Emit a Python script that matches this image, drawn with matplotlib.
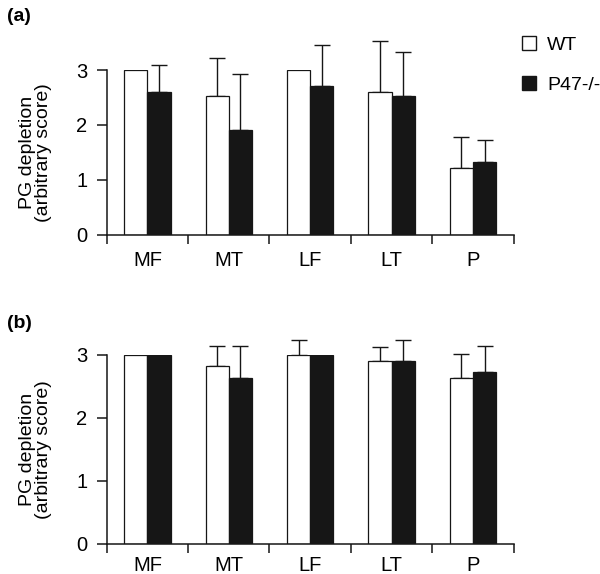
import numpy as np
import matplotlib
matplotlib.use("Agg")
import matplotlib.pyplot as plt
from matplotlib.lines import Line2D

plt.rcParams['font.family'] = ['Liberation Sans', 'DejaVu Sans']

# data
sites = ['MF', 'MT', 'LF', 'LT', 'P']
groups = ['WT', 'P47-/-']

# panel (a)
wt_a = [3.0, 2.53, 3.0, 2.6, 1.22]
wt_a_err = [0.0, 0.69, 0.0, 0.92, 0.56]
ko_a = [2.6, 1.9, 2.7, 2.53, 1.32]
ko_a_err = [0.5, 1.02, 0.75, 0.8, 0.4]

# panel (b)
wt_b = [3.0, 2.83, 3.0, 2.9, 2.63]
wt_b_err = [0.0, 0.32, 0.23, 0.23, 0.39]
ko_b = [3.0, 2.63, 3.0, 2.9, 2.73]
ko_b_err = [0.0, 0.52, 0.0, 0.33, 0.42]

yticks = [0, 1, 2, 3]

fig = plt.figure(figsize=(6.0, 5.74), dpi=100)
ax_a = fig.add_axes([0.1778, 0.5911, 0.6783, 0.2869])
ax_b = fig.add_axes([0.1778, 0.0523, 0.6783, 0.3293])

black = '#161616'
w = 0.285
x = np.arange(len(sites))


def draw_panel(ax, wt, wt_err, ko, ko_err, xpad):
    for vals, err, off, col in [(wt, wt_err, -w / 2, 'white'), (ko, ko_err, w / 2, black)]:
        ax.bar(x + off, vals, width=w, color=col, edgecolor=black, linewidth=0.9, zorder=2)
        err = np.array(err)
        has = err > 0
        ax.errorbar((x + off)[has], np.array(vals)[has],
                    yerr=[np.zeros(has.sum()), err[has]],
                    fmt='none', ecolor=black, elinewidth=1.0, capsize=5.5,
                    capthick=1.0, clip_on=False, zorder=1)
    ax.set_xlim(-0.5, len(sites) - 0.5)
    ax.set_ylim(0, 3)
    ax.set_yticks(yticks)
    ax.set_yticklabels([str(t) for t in yticks])
    ax.set_xticks(np.arange(-0.5, len(sites), 1.0))
    ax.set_xticklabels([])
    ax.set_xticks(x, minor=True)
    ax.set_xticklabels(sites, minor=True)
    ax.tick_params(axis='x', which='major', direction='out', length=6.5, width=1.1, color=black)
    ax.tick_params(axis='x', which='minor', length=0, pad=xpad, labelsize=14.5)
    ax.tick_params(axis='y', direction='out', length=7, width=1.1, color=black,
                   labelsize=14.5, pad=7)
    for s in ['top', 'right']:
        ax.spines[s].set_visible(False)
    for s in ['left', 'bottom']:
        ax.spines[s].set_linewidth(1.1)
        ax.spines[s].set_color(black)
    ax.set_ylabel('PG depletion\n(arbitrary score)', fontsize=14, labelpad=17,
                  linespacing=0.95)


draw_panel(ax_a, wt_a, wt_a_err, ko_a, ko_a_err, 12)
draw_panel(ax_b, wt_b, wt_b_err, ko_b, ko_b_err, 8.5)

# legend
handles = [Line2D([], [], marker='s', linestyle='none', markersize=10,
                  markerfacecolor='white', markeredgecolor=black, markeredgewidth=1.0),
           Line2D([], [], marker='s', linestyle='none', markersize=10,
                  markerfacecolor=black, markeredgecolor=black)]
fig.legend(handles, groups, loc='upper left', bbox_to_anchor=(0.852, 0.95),
           frameon=False, fontsize=14, handletextpad=0.45, labelspacing=1.15,
           borderaxespad=0, handlelength=1.0)

fig.text(0.011, 0.972, '(a)', fontsize=14, fontweight='bold', va='center')
fig.text(0.011, 0.436, '(b)', fontsize=14, fontweight='bold', va='center')

fig.savefig('out.png', dpi=100)
